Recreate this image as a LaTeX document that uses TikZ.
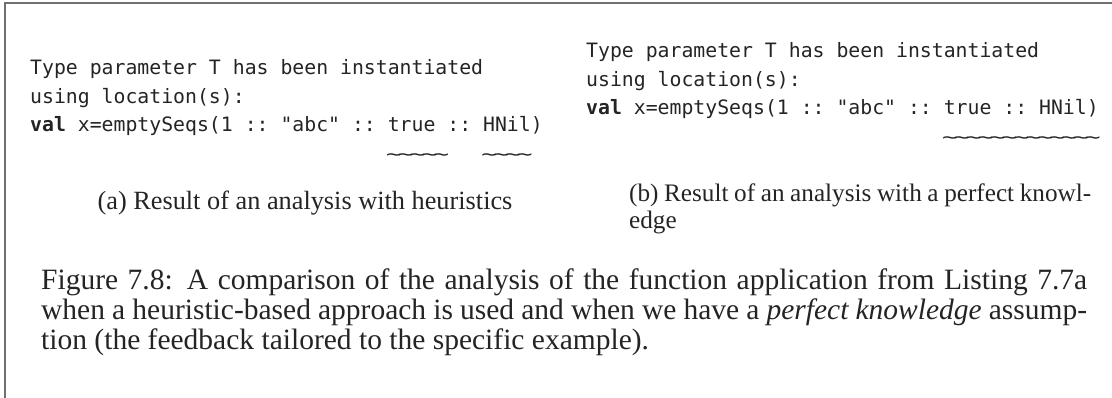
\documentclass[tikz,border=0pt]{standalone}
\usepackage{graphicx}
\usepackage{fontspec}
\setmainfont{Liberation Serif}
\setmonofont{DejaVu Sans Mono}
\definecolor{rulegray}{HTML}{707070}
\definecolor{ink}{HTML}{242424}
% one column of the monospaced listing font
\newlength{\colwd}
\newcommand{\codespace}{\settowidth{\colwd}{x}\spaceskip=\colwd\xspaceskip=\colwd\relax}
\newcommand{\cols}[1]{\hspace*{#1\colwd}}
% squiggle mark filling one column, so that a run of them reads as one wavy line
\newcommand{\tld}{\makebox[\colwd][c]{\scalebox{1.3}[0.9]{\textasciitilde}}}
\begin{document}
\begin{tikzpicture}[x=1pt,y=-1pt,
  code/.style={anchor=base west, inner sep=0pt, text width=540pt, align=left,
    text=ink, font=\fontsize{19.8}{28.5}\selectfont\ttfamily,
    execute at begin node=\codespace},
  subcap/.style={inner sep=0pt, text=ink},
  figcap/.style={inner sep=0pt, text=ink, font=\fontsize{29.5}{30}\selectfont}]
\useasboundingbox (0,0) rectangle (1112,398);
% frame rule on the left and top
\draw[rulegray, line width=1.5pt] (5,398) -- (5,3) -- (1112,3);

% (a) heuristic analysis
\node[code] (codeA) at (30,75) {Type parameter T has been instantiated\\
using location(s):\\
\textbf{val} x=emptySeqs(1 :: "abc" :: true :: HNil)\\
\cols{30}\tld\tld\tld\tld\tld\cols{3}\tld\tld\tld\tld};
\node[subcap, anchor=base, font=\fontsize{26.3}{27}\selectfont] (capA) at (305,210)
  {(a) Result of an analysis with heuristics};

% (b) perfect knowledge
\node[code] (codeB) at (586,58) {Type parameter T has been instantiated\\
using location(s):\\
\textbf{val} x=emptySeqs(1 :: "abc" :: true :: HNil)\\
\cols{30}\tld\tld\tld\tld\tld\tld\tld\tld\tld\tld\tld\tld\tld};
\node[subcap, anchor=base west, text width=462pt, align=justify,
  font=\fontsize{25.2}{27}\selectfont] (capB) at (629,202)
  {(b) Result of an analysis with a perfect knowl-\linebreak edge};

% figure caption
\node[figcap, anchor=base west, text width=1046pt, align=justify] (caption) at (41,290)
  {Figure 7.8: A comparison of the analysis of the function application from Listing 7.7a\linebreak
   when a heuristic-based approach is used and when we have a \emph{perfect knowledge} assump-\linebreak
   tion (the feedback tailored to the specific example).};
\end{tikzpicture}
\end{document}
